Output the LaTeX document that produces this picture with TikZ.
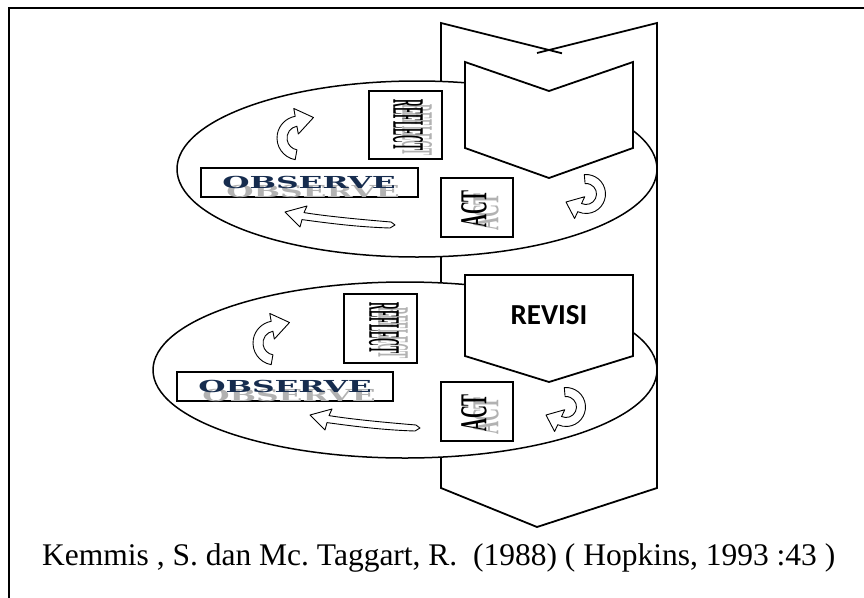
\documentclass[tikz,border=0pt]{standalone}
\usepackage{fontspec}
\setmainfont{Liberation Serif}
\newfontfamily\revisifont{Carlito}
\newfontfamily\observefont{DejaVu Serif}
\definecolor{obsblue}{RGB}{22,44,78}
\begin{document}
\frenchspacing
\begin{tikzpicture}[x=1pt, y=-1pt,
	box/.style={draw, line width=1.1pt, fill=white, inner sep=0pt},
	arw/.style={draw, line width=0.9pt, fill=white, line join=round},
	shp/.style={draw, line width=1.8pt, fill=white, line join=miter},
	ring/.style={draw, line width=1.5pt, fill=white},
	reflword/.style={font=\fontsize{45}{45}\selectfont\bfseries, inner sep=0pt, rotate=-90},
	actword/.style={font=\fontsize{38}{38}\selectfont\bfseries, inner sep=0pt, rotate=90},
	obsword/.style={font=\observefont\fontsize{16.5}{16.5}\selectfont\bfseries, inner sep=0pt, text=obsblue},
	ghost/.style={text=black!30}]
	\useasboundingbox (0,0) rectangle (864,597);
	\draw[line width=2.2pt] (9,610) -- (9,8) -- (880,8);
	\draw[shp] (441,23) -- (549,50) -- (657,23) -- (657,488) -- (537,527) -- (441,488) -- cycle;
	\draw[line width=1.8pt] (537,53) -- (549,50) -- (562,53.3);
	% first cycle
	\draw[ring] (417,169) ellipse [x radius=240, y radius=88];
	\draw[shp] (465,62) -- (549,91) -- (633,62) -- (633,148) -- (549,178) -- (465,148) -- cycle;
	\node[box, minimum width=73pt, minimum height=68pt] (reflA) at (405.5,125) {};
	\node[reflword, ghost] (reflAsh) at (417,130) {\scalebox{0.24}[1]{REFLECT}};
	\node[reflword] (reflAtx) at (408,125) {\scalebox{0.24}[1]{REFLECT}};
	\node[box, minimum width=217pt, minimum height=29pt] (obsA) at (309.5,182.5) {};
	\node[obsword, ghost] (obsAsh) at (313,191) {\scalebox{1.9}[1]{OBSERVE}};
	\node[obsword] (obsAtx) at (309,182) {\scalebox{1.9}[1]{OBSERVE}};
	\node[box, minimum width=72pt, minimum height=59pt] (actA) at (477,207.5) {};
	\node[actword, ghost] (actAsh) at (486,212) {\scalebox{0.47}[1]{ACT}};
	\node[actword] (actAtx) at (474,209) {\scalebox{0.47}[1]{ACT}};
	% second cycle
	\draw[ring] (405,370) ellipse [x radius=252, y radius=88];
	\draw[shp] (465,275) -- (633,275) -- (633,356) -- (549,382) -- (465,356) -- cycle;
	\node[font=\revisifont\bfseries\fontsize{29}{29}\selectfont] (revisi) at (549,315) {REVISI};
	\node[box, minimum width=73pt, minimum height=69pt] (reflB) at (380.5,328.5) {};
	\node[reflword, ghost] (reflBsh) at (393,333) {\scalebox{0.24}[1]{REFLECT}};
	\node[reflword] (reflBtx) at (384,328) {\scalebox{0.24}[1]{REFLECT}};
	\node[box, minimum width=216pt, minimum height=29pt] (obsB) at (285,386.5) {};
	\node[obsword, ghost] (obsBsh) at (289,395) {\scalebox{1.9}[1]{OBSERVE}};
	\node[obsword] (obsBtx) at (285,386) {\scalebox{1.9}[1]{OBSERVE}};
	\node[box, minimum width=72pt, minimum height=59pt] (actB) at (477,411.5) {};
	\node[actword, ghost] (actBsh) at (486,416) {\scalebox{0.47}[1]{ACT}};
	\node[actword] (actBtx) at (474,413) {\scalebox{0.47}[1]{ACT}};
	% block arrows
	\foreach \cx/\cy in {299/138, 275/343}
		\draw[arw, shift={(\cx,\cy)}, yscale=-1] (-100:22) arc[start angle=-100, end angle=-260, radius=22] -- (100:30) -- (14.5,20.5) -- (100:4) -- (100:12) arc[start angle=100, end angle=260, radius=12] -- cycle;
	\foreach \ox/\oy in {285/207, 310/410}
		\draw[arw, shift={(\ox,\oy)}] (0,5) -- (22,-1) -- (19,5.6) .. controls (40,9) and (70,12) .. (106,15) -- (110,18) -- (105,21) .. controls (72,20) and (42,16) .. (17,12.6) -- (15,20) -- cycle;
	\foreach \cx/\cy in {586/194, 566/407}
		\draw[arw, shift={(\cx,\cy)}, yscale=-1] (95:19.5) arc[start angle=95, end angle=-115, radius=19.5] -- (-115:27) -- (-20,-8) -- (-115:3) -- (-115:10.5) arc[start angle=-115, end angle=95, radius=10.5] -- cycle;
	\node[anchor=base west, inner sep=0pt, font=\fontsize{31.5}{36}\selectfont] (source) at (42,565) {Kemmis , S. dan Mc. Taggart, R.\ \ (1988) ( Hopkins, 1993 :43 )};
\end{tikzpicture}
\end{document}
